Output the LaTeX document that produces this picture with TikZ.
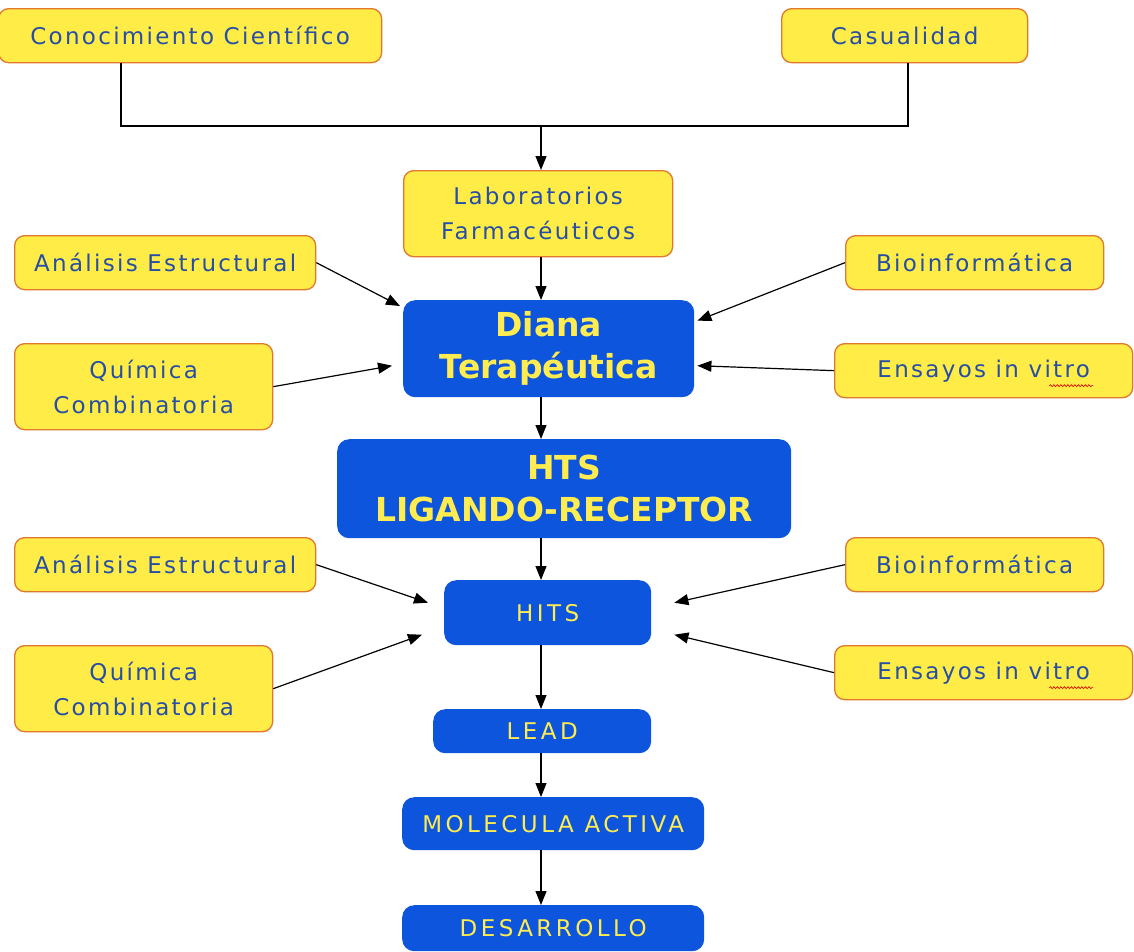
\documentclass[tikz,border=0pt]{standalone}
\usepackage{fontspec}
\setmainfont{DejaVu Sans}
\newfontfamily\yfont[LetterSpace=10]{DejaVu Sans}
\newfontfamily\bfontsp[LetterSpace=15]{DejaVu Sans}
\usetikzlibrary{arrows.meta,calc,decorations.pathmorphing}
\definecolor{yfill}{RGB}{255,236,70}
\definecolor{ydraw}{RGB}{225,120,45}
\definecolor{ytext}{RGB}{38,78,165}
\definecolor{bfill}{RGB}{12,85,220}
\definecolor{btext}{RGB}{255,236,80}
\tikzset{
  ybox/.style={draw=ydraw,line width=1.3pt,fill=yfill,rounded corners=10pt,anchor=north west,
    text=ytext,align=center,font=\yfont\fontsize{23}{35}\selectfont,inner sep=0pt},
  bbox/.style={fill=bfill,rounded corners=12pt,anchor=north west,
    text=btext,align=center,font=\bfontsp\fontsize{23}{35}\selectfont,inner sep=0pt},
  bigb/.style={bbox,font=\fontsize{33}{42}\bfseries\selectfont},
  conn/.style={line width=1.2pt,black},
  arr/.style={conn,-{Triangle[length=14pt,width=11pt]}},
  squig/.style={red!85!black,line width=0.6pt,decorate,decoration={snake,amplitude=1pt,segment length=3.5pt}},
}
\begin{document}
\begin{tikzpicture}[x=1pt,y=-1pt]
\useasboundingbox (0,0) rectangle (1134,951);
% yellow boxes
\node[ybox,minimum width=383pt,minimum height=54pt] (cc) at (-2,8) {Conocimiento Científico};
\node[ybox,minimum width=246pt,minimum height=54pt] (cas) at (781,8) {Casualidad};
\node[ybox,minimum width=269pt,minimum height=86pt] (lab) at (403,170) {Laboratorios\\Farmacéuticos};
\node[ybox,minimum width=301pt,minimum height=54pt] (an1) at (14,235) {Análisis Estructural};
\node[ybox,minimum width=258pt,minimum height=54pt] (bio1) at (845,235) {Bioinformática};
\node[ybox,minimum width=258pt,minimum height=86pt] (qc1) at (14,343) {Química\\Combinatoria};
\node[ybox,minimum width=298pt,minimum height=54pt] (ens1) at (834,343) {Ensayos in vitro};
\node[ybox,minimum width=301pt,minimum height=54pt] (an2) at (14,537) {Análisis Estructural};
\node[ybox,minimum width=258pt,minimum height=54pt] (bio2) at (845,537) {Bioinformática};
\node[ybox,minimum width=258pt,minimum height=86pt] (qc2) at (14,645) {Química\\Combinatoria};
\node[ybox,minimum width=298pt,minimum height=54pt] (ens2) at (834,645) {Ensayos in vitro};
% blue boxes
\node[bigb,minimum width=291pt,minimum height=97pt] (dia) at (403,300) {Diana\\Terapéutica};
\node[bigb,minimum width=454pt,minimum height=99pt] (hts) at (337,439) {HTS\\LIGANDO-RECEPTOR};
\node[bbox,minimum width=207pt,minimum height=65pt] (hits) at (444,580) {HITS};
\node[bbox,minimum width=218pt,minimum height=44pt] (lead) at (433,709) {LEAD};
\node[bbox,minimum width=302pt,minimum height=53pt] (mol) at (402,797) {MOLECULA ACTIVA};
\node[bbox,minimum width=302pt,minimum height=46pt] (des) at (402,905) {DESARROLLO};
% spell-check squiggles
\draw[squig] ($(ens1.east)+(-84,15)$) -- ($(ens1.east)+(-40,15)$);
\draw[squig] ($(ens2.east)+(-84,15)$) -- ($(ens2.east)+(-40,15)$);
% connectors
\coordinate (xl) at (121,0);
\coordinate (xr) at (908,0);
\coordinate (xc) at (541,0);
\coordinate (j) at (541,126);
\draw[conn] (cc.south -| xl) |- (j) -| (cas.south -| xr);
\draw[arr] (j) -- (lab.north -| xc);
\draw[arr] (lab.south -| xc) -- (dia.north -| xc);
\draw[arr] (dia.south -| xc) -- (hts.north -| xc);
\draw[arr] (hts.south -| xc) -- (hits.north -| xc);
\draw[arr] (hits.south -| xc) -- (lead.north -| xc);
\draw[arr] (lead.south -| xc) -- (mol.north -| xc);
\draw[arr] (mol.south -| xc) -- (des.north -| xc);
\draw[arr] (an1.east) -- ($(dia.north west)+(-3,6)$);
\draw[arr] (qc1.east) -- ($(dia.west)+(-11,17)$);
\draw[arr] (bio1.west) -- ($(dia.east)+(3,-28)$);
\draw[arr] (ens1.west) -- ($(dia.east)+(3,17)$);
\draw[arr] (an2.east) -- ($(hits.west)+(-16,-10)$);
\draw[arr] (qc2.east) -- ($(hits.west)+(-22,22)$);
\draw[arr] (bio2.west) -- ($(hits.east)+(23,-10)$);
\draw[arr] (ens2.west) -- ($(hits.east)+(23,22)$);
\end{tikzpicture}
\end{document}
